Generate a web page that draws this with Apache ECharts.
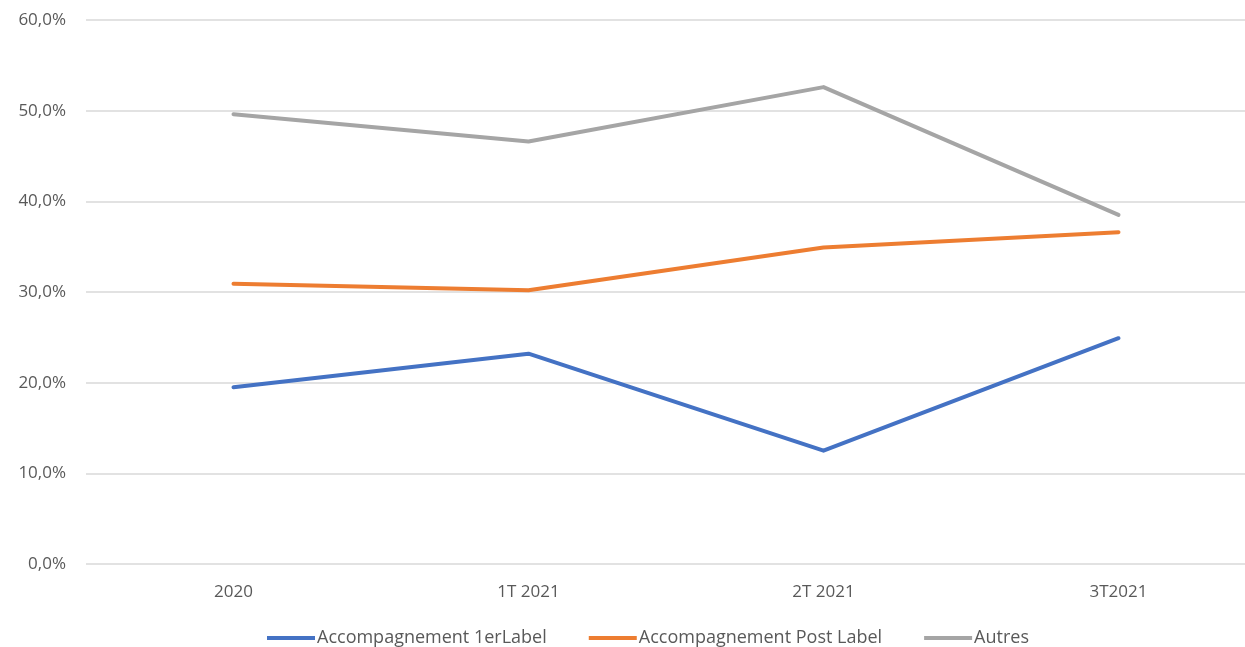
<!DOCTYPE html>
<html>
<head>
<meta charset="utf-8">
<script src="https://cdn.jsdelivr.net/npm/echarts@6/dist/echarts.min.js"></script>
<style>
  html, body { margin: 0; padding: 0; background: #fff; }
  #chart { width: 1245px; height: 647px; }
</style>
</head>
<body>
<div id="chart"></div>
<script>
const categories = ['2020', '1T 2021', '2T 2021', '3T2021'];
const premierLabel = [19.5, 23.2, 12.5, 24.9];
const postLabel = [30.9, 30.2, 34.9, 36.6];
const autres = [49.6, 46.6, 52.6, 38.5];

const chart = echarts.init(document.getElementById('chart'));

const fontFamily = '"Open Sans", "Noto Sans", sans-serif';

const lineSeries = (name, data, color) => ({
  name,
  type: 'line',
  data,
  symbol: 'none',
  lineStyle: { width: 4, color, cap: 'round', join: 'round' },
  itemStyle: { color }
});

chart.setOption({
  animation: false,
  textStyle: { fontFamily },
  // the plot runs past the right edge of the picture
  grid: {
    left: 86, width: 1180, top: 20, bottom: 83,
    containLabel: false, outerBoundsMode: 'none'
  },
  legend: {
    bottom: -5,
    left: 262,
    icon: 'rect',
    itemWidth: 48,
    itemHeight: 4,
    itemGap: 42,
    textStyle: { fontSize: 18, color: '#595959', fontFamily, padding: [0, 0, 0, -3] },
    data: ['Accompagnement 1erLabel', 'Accompagnement Post Label', 'Autres']
  },
  xAxis: {
    type: 'category',
    data: categories,
    boundaryGap: true,
    axisLine: { show: false },
    axisTick: { show: false },
    axisLabel: { fontSize: 17, color: '#595959', margin: 20 }
  },
  yAxis: {
    type: 'value',
    min: 0,
    max: 60,
    interval: 10,
    axisLine: { show: false },
    axisTick: { show: false },
    splitLine: { lineStyle: { color: '#d9d9d9', width: 1.5 } },
    axisLabel: {
      fontSize: 17,
      color: '#595959',
      margin: 20,
      formatter: v => v.toFixed(1).replace('.', ',') + '%'
    }
  },
  series: [
    lineSeries('Accompagnement 1erLabel', premierLabel, '#4472C4'),
    lineSeries('Accompagnement Post Label', postLabel, '#ED7D31'),
    lineSeries('Autres', autres, '#A5A5A5')
  ]
});

window.addEventListener('resize', () => chart.resize());
</script>
</body>
</html>
